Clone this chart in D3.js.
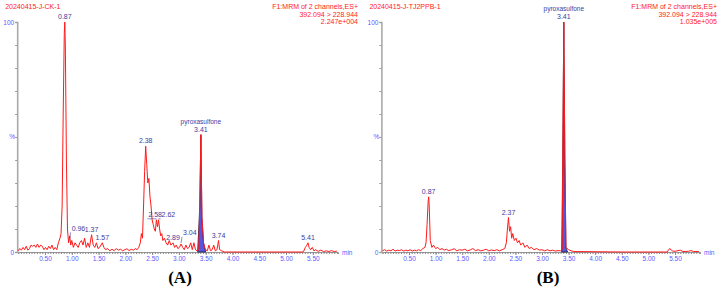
<!DOCTYPE html>
<html>
<head>
<meta charset="utf-8">
<script src="https://cdn.jsdelivr.net/npm/d3@7"></script>
<style>
  body { margin: 0; background: #fff; }
  svg { display: block; font-family: "Liberation Sans", Arial, sans-serif; }
</style>
</head>
<body>
<svg id="chart" width="719" height="291"></svg>
<script>
// trace A (time in min, intensity in %)
const timeA = [0.00,0.03,0.06,0.09,0.12,0.15,0.18,0.21,0.24,0.27,0.30,0.33,0.36,0.39,0.42,0.45,0.48,0.51,0.54,0.57,0.60,0.63,0.66,0.69,0.72,0.75,0.78,0.80,0.82,0.84,0.86,0.87,0.88,0.90,0.92,0.94,0.96,0.98,1.00,1.03,1.06,1.09,1.12,1.15,1.18,1.21,1.24,1.27,1.30,1.33,1.37,1.40,1.43,1.46,1.49,1.52,1.57,1.60,1.63,1.67,1.71,1.75,1.79,1.83,1.87,1.91,1.95,1.99,2.03,2.07,2.11,2.15,2.19,2.22,2.25,2.28,2.30,2.32,2.34,2.36,2.38,2.40,2.42,2.44,2.46,2.48,2.50,2.52,2.54,2.56,2.58,2.60,2.62,2.64,2.66,2.68,2.70,2.73,2.76,2.79,2.82,2.85,2.89,2.92,2.95,2.98,3.01,3.04,3.07,3.10,3.13,3.16,3.19,3.22,3.25,3.28,3.31,3.34,3.37,3.39,3.41,3.43,3.46,3.48,3.50,3.53,3.56,3.59,3.62,3.65,3.68,3.71,3.74,3.76,3.80,3.85,4.50,5.30,5.33,5.36,5.39,5.41,5.43,5.46,5.49,5.52,5.55,5.60,5.65,5.70,5.75,5.80,5.85,5.90,5.95];
const valueA = [0.5,1.5,0.8,2,1,2.5,0.8,1.5,3,2.5,3,2,3.5,2,3,2.5,1,2,1,2.5,1.5,3,1,2,1,4,6,8,20,60,95,100,90,40,10,4,7,3,5,2,4,3,2,4,5,3,6,2,4,2,7.5,3,2,4,1.5,2,4,2,1,1.5,0.5,1.2,0.6,1.5,0.8,1.2,0.5,1,1.4,0.6,1.2,0.8,1.5,1,2,4,8,6,20,35,46,38,30,32,24,20,14,12,10,9,14,11,14,10,7,8,5,6,4,3,5,3,4,2,3,1.5,2,3.5,2,1,3,1.5,2,4,1,4,1,0.5,1,20,51,15,4,2,1,0.5,3,0.5,1,3,0.5,1,5,1,0.5,0,0,0,0.3,2,3,4,2,1,2,0.5,1,0.3,0.8,0.2,0.5,0.2,0.6,0.2,0.4];

// trace B
const timeB = [0.00,0.04,0.08,0.12,0.16,0.20,0.24,0.28,0.32,0.36,0.40,0.44,0.48,0.52,0.56,0.60,0.64,0.68,0.72,0.76,0.80,0.82,0.84,0.86,0.87,0.88,0.90,0.93,0.96,1.00,1.04,1.08,1.12,1.16,1.20,1.25,1.30,1.35,1.40,1.45,1.50,1.55,1.60,1.65,1.70,1.75,1.80,1.85,1.90,1.95,2.00,2.05,2.10,2.15,2.20,2.25,2.30,2.33,2.35,2.37,2.39,2.41,2.43,2.45,2.48,2.51,2.54,2.57,2.60,2.64,2.68,2.72,2.76,2.80,2.85,2.90,2.95,3.00,3.05,3.10,3.15,3.20,3.25,3.30,3.35,3.38,3.39,3.41,3.43,3.45,3.50,3.55,3.60,4.50,5.35,5.40,5.45,5.50,5.60,5.65,5.75,5.80,5.85,5.95];
const valueB = [0.5,1,0.4,0.8,0.5,1.2,0.4,0.8,0.6,1,0.4,0.8,0.5,1,0.4,0.8,0.5,1,0.6,1.5,2,4,12,22,24,20,5,2,3,1.5,2,1,1.5,0.8,1.2,0.6,1,1.4,0.5,1,0.8,1.2,0.5,0.9,1.5,0.6,1,0.5,0.8,1.2,0.5,0.9,0.6,1,0.5,1,1.5,4,10,15,9,11,6,8,5,6,4,5,3,4,2,3,1.5,2,1,1.5,0.8,1,0.5,1,0.5,0.8,0.4,0.6,0.5,1,40,100,40,2,1,0.5,0.2,0,0,1.5,0.5,0.3,0.8,0.2,0.3,0.6,0.2,0.2];

// integrated (blue) peak
const peakTimeA = [3.35,3.39,3.41,3.43,3.46,3.50];
const peakValueA = [0,20,51,15,4,0];
const peakTimeB = [3.37,3.39,3.41,3.43,3.45,3.48];
const peakValueB = [0,40,100,40,2,0];

// peak labels
const labelTimeA = [0.87,0.96,1.37,1.57,2.38,2.58,2.62,2.89,3.04,3.74,5.41];
const labelValueA = [100,5,7.5,4,46,14,14,4,3.5,5,4];
const labelTimeB = [0.87,2.37];
const labelValueB = [24,15];

const xTicks = [0.5,1.0,1.5,2.0,2.5,3.0,3.5,4.0,4.5,5.0,5.5];

const svg = d3.select("#chart");

const traceRed = "#ff1a1a";
const labelBlue = "#3c3ca0";
const axisBlue = "#5a5aff";

function drawPanel(opt) {
  const x = d3.scaleLinear().domain([0, 5.97]).range(opt.xr);
  const y = d3.scaleLinear().domain([0, 100]).range([252, 22]);
  const g = svg.append("g");

  // header texts
  g.append("text").attr("x", opt.xr[0] - 13).attr("y", 9)
    .attr("font-size", 7).attr("fill", traceRed).text(opt.name);
  opt.info.forEach((t, i) => {
    g.append("text").attr("x", opt.infoX).attr("y", 9 + i * 7.5)
      .attr("text-anchor", "end").attr("font-size", 7).attr("fill", traceRed).text(t);
  });

  // x axis with minor ticks
  g.append("g")
    .attr("transform", `translate(0,252)`)
    .call(d3.axisBottom(x).tickValues(d3.range(0, 5.96, 0.05)).tickSize(2).tickFormat(""))
    .call(a => a.selectAll("line").attr("stroke", "#888"))
    .call(a => a.select(".domain").attr("stroke", "#999"));
  g.append("g")
    .attr("transform", `translate(0,252)`)
    .call(d3.axisBottom(x).tickValues(xTicks).tickSize(3).tickFormat(d3.format(".2f")))
    .call(a => a.select(".domain").remove())
    .call(a => a.selectAll("line").attr("stroke", "#888"))
    .call(a => a.selectAll("text").attr("fill", axisBlue).attr("font-size", 6.5)
      .attr("font-family", "Liberation Sans, Arial, sans-serif").attr("dy", "0.45em"));
  g.append("text").attr("x", x(5.97) + 4).attr("y", 255)
    .attr("font-size", 6.5).attr("fill", axisBlue).text("min");

  // y axis
  g.append("g")
    .attr("transform", `translate(${opt.xr[0] - 1},0)`)
    .call(d3.axisLeft(y).tickValues(d3.range(0, 101, 10)).tickSize(2).tickFormat(""))
    .call(a => a.selectAll("line").attr("stroke", "#999"))
    .call(a => a.select(".domain").attr("stroke", "#aaa").attr("stroke-width", 1.6));
  [[100, "100"], [0, "0"]].forEach(([v, t]) => {
    g.append("text").attr("x", opt.xr[0] - 4).attr("y", y(v) + 2.5)
      .attr("text-anchor", "end").attr("font-size", 6.5).attr("fill", axisBlue).text(t);
  });
  g.append("text").attr("x", opt.xr[0] - 9).attr("y", 139)
    .attr("font-size", 6.5).attr("fill", axisBlue).text("%");

  // blue integrated peak
  const area = d3.area().x(d => x(d[0])).y0(y(0)).y1(d => y(d[1]));
  g.append("path")
    .datum(d3.zip(opt.peakT, opt.peakV))
    .attr("d", area)
    .attr("fill", "#5555dd")
    .attr("stroke", "#1a1a40")
    .attr("stroke-width", 0.8);

  // red trace
  const line = d3.line().x(d => x(d[0])).y(d => y(d[1]));
  g.append("path")
    .datum(d3.zip(opt.time, opt.value))
    .attr("d", line)
    .attr("fill", "none")
    .attr("stroke", traceRed)
    .attr("stroke-width", 1)
    .attr("stroke-linejoin", "round");

  // peak labels
  opt.labT.forEach((t, i) => {
    const off = opt.labOff[i] || [0, 0];
    const px = x(t), py = y(opt.labV[i]);
    if (off[0] || off[1]) {
      g.append("line")
        .attr("x1", px).attr("y1", py - 1)
        .attr("x2", px + off[0] - 1).attr("y2", py + off[1] - 1)
        .attr("stroke", labelBlue).attr("stroke-width", 0.6);
    }
    g.append("text").attr("x", px + off[0]).attr("y", py - 3 + off[1])
      .attr("text-anchor", off[0] ? "start" : "middle")
      .attr("font-size", 7).attr("fill", labelBlue).text(t.toFixed(2));
  });

  // compound name above 3.41
  const top = y(d3.max(opt.peakV));
  g.append("text").attr("x", x(3.41)).attr("y", top - 3)
    .attr("text-anchor", "middle").attr("font-size", 7).attr("fill", labelBlue).text("3.41");
  g.append("text").attr("x", x(3.41)).attr("y", top - 11)
    .attr("text-anchor", "middle").attr("font-size", 6.5).attr("fill", labelBlue).text("pyroxasulfone");

  // panel letter
  g.append("text").attr("x", opt.letterX).attr("y", 283)
    .attr("text-anchor", "middle").attr("font-family", "Liberation Serif, Times New Roman, serif")
    .attr("font-size", 17).attr("font-weight", "bold").attr("fill", "#000").text(opt.letter);
}

drawPanel({
  xr: [18.2, 338], name: "20240415-J-CK-1", infoX: 358,
  info: ["F1:MRM of 2 channels,ES+", "392.094 > 228.944", "2.247e+004"],
  time: timeA, value: valueA, peakT: peakTimeA, peakV: peakValueA,
  labT: labelTimeA, labV: labelValueA,
  labOff: [null, [2, -7], null, null, null, [-8, 0], [3, 0], null, [2, -6], null, null],
  letter: "(A)", letterX: 180
});
drawPanel({
  xr: [382.4, 700], name: "20240415-J-TJ2PPB-1", infoX: 717,
  info: ["F1:MRM of 2 channels,ES+", "392.094 > 228.944", "1.035e+005"],
  time: timeB, value: valueB, peakT: peakTimeB, peakV: peakValueB,
  labT: labelTimeB, labV: labelValueB, labOff: [],
  letter: "(B)", letterX: 548
});
</script>
</body>
</html>
